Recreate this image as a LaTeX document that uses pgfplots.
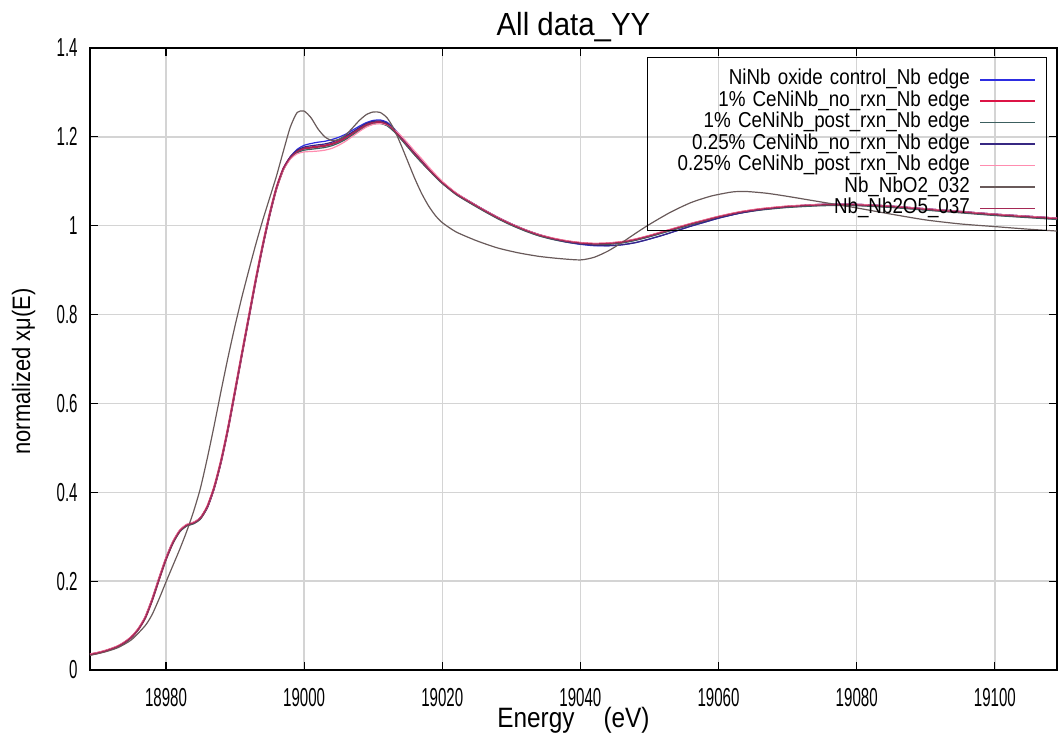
\documentclass[border=0pt]{standalone}
\usepackage{pgfplots}
\pgfplotsset{compat=1.18}
\usepackage{pgfplotstable}
\usepackage{fontspec}
\setmainfont{Liberation Sans}[FakeStretch=0.87]
\newfontfamily\tickfont{Liberation Sans}[FakeStretch=0.58]
\newfontfamily\titlefont{Liberation Sans}[FakeStretch=0.92]

\definecolor{cblue}{RGB}{45,45,225}
\definecolor{cred}{RGB}{220,20,70}
\definecolor{cslate}{RGB}{60,95,95}
\definecolor{cnavy}{RGB}{55,40,130}
\definecolor{cpink}{RGB}{255,140,175}
\definecolor{cgray}{RGB}{105,90,90}
\definecolor{cmaroon}{RGB}{165,40,85}
\definecolor{cgrid}{RGB}{212,212,212}

% E, NiNb control (a), 1% no rxn (b), 1% post rxn (c), 0.25% no rxn (d), 0.25% post rxn (e), Nb2O5 (f)
\pgfplotstableread{
E a b c d e f
18969 0.035 0.035 0.034 0.035 0.036 0.035
18970 0.038 0.038 0.037 0.038 0.039 0.038
18971 0.042 0.042 0.041 0.042 0.043 0.042
18972 0.047 0.047 0.046 0.047 0.048 0.047
18973 0.053 0.053 0.052 0.053 0.054 0.053
18974 0.062 0.062 0.061 0.062 0.063 0.062
18975 0.074 0.074 0.073 0.074 0.075 0.074
18976 0.092 0.092 0.091 0.092 0.093 0.092
18977 0.118 0.118 0.117 0.119 0.120 0.118
18978 0.158 0.158 0.156 0.159 0.160 0.158
18979 0.205 0.205 0.203 0.206 0.207 0.205
18980 0.250 0.250 0.248 0.251 0.252 0.250
18981 0.287 0.287 0.285 0.288 0.289 0.287
18982 0.313 0.313 0.311 0.314 0.315 0.313
18983 0.326 0.326 0.324 0.327 0.328 0.326
18984 0.331 0.331 0.329 0.332 0.333 0.331
18985 0.342 0.342 0.340 0.343 0.343 0.342
18986 0.366 0.368 0.366 0.367 0.368 0.368
18987 0.410 0.412 0.410 0.411 0.412 0.412
18988 0.470 0.472 0.470 0.471 0.472 0.472
18989 0.543 0.545 0.543 0.544 0.545 0.545
18990 0.626 0.628 0.626 0.627 0.628 0.628
18991 0.710 0.712 0.710 0.711 0.712 0.712
18992 0.793 0.795 0.793 0.794 0.795 0.795
18993 0.876 0.878 0.876 0.877 0.878 0.878
18994 0.953 0.955 0.953 0.954 0.955 0.955
18995 1.023 1.025 1.023 1.024 1.025 1.025
18996 1.084 1.085 1.083 1.085 1.084 1.085
18997 1.128 1.128 1.126 1.129 1.126 1.128
18998 1.155 1.153 1.151 1.155 1.150 1.153
18999 1.172 1.167 1.164 1.170 1.162 1.167
19000 1.181 1.174 1.170 1.177 1.166 1.174
19001 1.185 1.176 1.172 1.180 1.167 1.176
19002 1.188 1.178 1.174 1.182 1.168 1.178
19003 1.190 1.180 1.176 1.184 1.170 1.180
19004 1.194 1.184 1.180 1.188 1.174 1.184
19005 1.199 1.190 1.186 1.194 1.181 1.190
19006 1.206 1.198 1.194 1.202 1.190 1.198
19007 1.215 1.208 1.204 1.211 1.201 1.208
19008 1.224 1.218 1.214 1.221 1.212 1.218
19009 1.232 1.227 1.223 1.230 1.222 1.227
19010 1.237 1.232 1.229 1.235 1.228 1.232
19011 1.238 1.233 1.230 1.236 1.230 1.233
19012 1.233 1.228 1.225 1.231 1.227 1.228
19013 1.219 1.215 1.212 1.217 1.217 1.215
19014 1.201 1.198 1.195 1.200 1.203 1.198
19015 1.182 1.180 1.177 1.182 1.186 1.180
19016 1.163 1.162 1.159 1.163 1.168 1.162
19017 1.146 1.145 1.142 1.146 1.151 1.145
19018 1.129 1.128 1.126 1.129 1.133 1.128
19019 1.113 1.112 1.110 1.113 1.116 1.112
19020 1.098 1.097 1.095 1.098 1.100 1.097
19022 1.073 1.072 1.070 1.073 1.074 1.072
19024 1.054 1.053 1.051 1.054 1.054 1.053
19026 1.036 1.035 1.033 1.036 1.036 1.035
19028 1.019 1.018 1.016 1.019 1.019 1.018
19030 1.004 1.003 1.001 1.004 1.004 1.003
19032 0.990 0.990 0.988 0.991 0.991 0.990
19034 0.979 0.979 0.977 0.980 0.980 0.979
19036 0.970 0.971 0.969 0.971 0.972 0.971
19038 0.963 0.965 0.963 0.964 0.966 0.965
19040 0.958 0.961 0.959 0.959 0.962 0.961
19042 0.955 0.959 0.957 0.956 0.960 0.959
19044 0.955 0.960 0.958 0.955 0.961 0.960
19046 0.957 0.963 0.961 0.957 0.964 0.963
19048 0.962 0.969 0.967 0.962 0.970 0.969
19050 0.970 0.977 0.975 0.970 0.978 0.977
19052 0.979 0.986 0.984 0.979 0.987 0.986
19054 0.989 0.995 0.993 0.989 0.996 0.995
19056 0.999 1.004 1.002 0.999 1.005 1.004
19058 1.008 1.012 1.010 1.008 1.013 1.012
19060 1.017 1.020 1.018 1.017 1.021 1.020
19063 1.028 1.030 1.028 1.028 1.031 1.030
19066 1.036 1.037 1.035 1.036 1.038 1.037
19070 1.043 1.043 1.041 1.043 1.044 1.043
19075 1.048 1.047 1.045 1.048 1.048 1.047
19080 1.048 1.047 1.045 1.048 1.048 1.047
19085 1.044 1.043 1.041 1.044 1.044 1.043
19090 1.038 1.037 1.035 1.038 1.038 1.037
19095 1.032 1.031 1.029 1.032 1.032 1.031
19100 1.026 1.025 1.023 1.026 1.026 1.025
19105 1.021 1.020 1.018 1.021 1.021 1.020
19109 1.017 1.016 1.014 1.017 1.017 1.016
}\samples

% Nb_NbO2_032
\pgfplotstableread{
E g
18969 0.033
18971 0.040
18973 0.050
18975 0.068
18977 0.100
18978 0.125
18979 0.160
18980 0.198
18981 0.235
18982 0.272
18983 0.312
18984 0.357
18985 0.410
18986 0.478
18987 0.552
18988 0.630
18989 0.705
18990 0.775
18991 0.840
18992 0.900
18993 0.958
18994 1.012
18995 1.062
18996 1.112
18997 1.168
18998 1.222
18999 1.255
19000 1.258
19001 1.243
19002 1.218
19003 1.200
19004 1.192
19005 1.194
19006 1.204
19007 1.220
19008 1.237
19009 1.250
19010 1.256
19011 1.255
19012 1.243
19013 1.218
19014 1.183
19015 1.145
19016 1.107
19017 1.073
19018 1.045
19019 1.023
19020 1.007
19022 0.986
19025 0.966
19028 0.950
19031 0.939
19034 0.931
19037 0.926
19040 0.923
19042 0.929
19044 0.943
19046 0.962
19048 0.983
19050 1.003
19053 1.030
19056 1.052
19059 1.067
19062 1.076
19064 1.077
19067 1.073
19070 1.066
19075 1.053
19080 1.040
19085 1.026
19090 1.013
19095 1.004
19100 0.998
19105 0.992
19109 0.988
}\nbotwo

\begin{document}
\begin{tikzpicture}
\useasboundingbox (-45pt,-42.5pt) rectangle (485.5pt,335pt);
\begin{axis}[
  at={(0pt,0pt)}, anchor=south west,
  scale only axis, width=483.5pt, height=311pt,
  xmin=18969, xmax=19109, ymin=0, ymax=1.4,
  xtick={18980,19000,19020,19040,19060,19080,19100},
  ytick={0,0.2,0.4,0.6,0.8,1,1.2,1.4},
  scaled x ticks=false,
  /pgf/number format/1000 sep={},
  /pgf/number format/assume math mode=true,
  tick label style={font=\tickfont\fontsize{13}{15}\selectfont},
  xticklabel style={anchor=north, inner sep=0pt, yshift=-9pt},
  yticklabel style={anchor=east, inner sep=0pt, xshift=-6pt},
  tick align=inside, major tick length=4pt,
  tick style={black, line width=0.6pt},
  axis line style={black, line width=0.7pt},
  grid=major,
  major grid style={cgrid, line width=0.7pt},
  every axis title shift=0pt,
  title={All data\_YY},
  title style={at={(axis description cs:0.5,1)}, anchor=base, yshift=6pt,
    font=\titlefont\fontsize{16}{18}\selectfont},
  xlabel={Energy\hspace{14.5pt}(eV)},
  xlabel style={at={(axis description cs:0.5,0)}, anchor=base, yshift=-29pt,
    font=\fontsize{14}{16}\selectfont},
  ylabel={normalized xμ(E)},
  every axis y label/.style={at={(axis description cs:-0.062,0.48)}, rotate=90, anchor=base,
    font=\fontsize{12.6}{15}\selectfont},
  legend plot pos=right,
  legend cell align=right,
  legend image code/.code={\draw[#1] (0pt,0pt) -- (27.5pt,0pt);},
  legend style={at={(axis description cs:0.9897,0.9855)}, anchor=north east,
    draw=black, line width=0.6pt, fill=none,
    inner xsep=5pt, inner ysep=5.6pt, row sep=0pt, column sep=4.5pt,
    font=\fontsize{10.8}{12}\selectfont,
    nodes={inner sep=0pt, text height=8pt, text depth=2.75pt, text width=156pt, align=right}},
  every axis plot/.append style={line join=round},
]
\addplot[draw=cblue, line width=0.6pt, smooth, tension=0.4, legend image post style={draw=cblue, line width=1pt}] table[x=E, y=a] {\samples};
\addlegendentry{NiNb oxide control\_Nb edge}
\addplot[draw=cred, line width=1.1pt, smooth, tension=0.4, legend image post style={draw=cred, line width=1.3pt}] table[x=E, y=b] {\samples};
\addlegendentry{1\% CeNiNb\_no\_rxn\_Nb edge}
\addplot[draw=cslate, line width=0.6pt, smooth, tension=0.4, legend image post style={draw=cslate, line width=0.8pt}] table[x=E, y=c] {\samples};
\addlegendentry{1\% CeNiNb\_post\_rxn\_Nb edge}
\addplot[draw=cnavy, line width=0.6pt, smooth, tension=0.4, legend image post style={draw=cnavy, line width=0.8pt}] table[x=E, y=d] {\samples};
\addlegendentry{0.25\% CeNiNb\_no\_rxn\_Nb edge}
\addplot[draw=cpink, line width=0.6pt, smooth, tension=0.4, legend image post style={draw=cpink, line width=0.8pt}] table[x=E, y=e] {\samples};
\addlegendentry{0.25\% CeNiNb\_post\_rxn\_Nb edge}
\addplot[draw=cgray, line width=0.6pt, smooth, tension=0.4, legend image post style={draw=cgray, line width=0.8pt}] table[x=E, y=g] {\nbotwo};
\addlegendentry{Nb\_NbO2\_032}
\addplot[draw=cmaroon, line width=0.6pt, smooth, tension=0.4, legend image post style={draw=cmaroon, line width=0.8pt}] table[x=E, y=f] {\samples};
\addlegendentry{Nb\_Nb2O5\_037}
\end{axis}
\end{tikzpicture}
\end{document}
